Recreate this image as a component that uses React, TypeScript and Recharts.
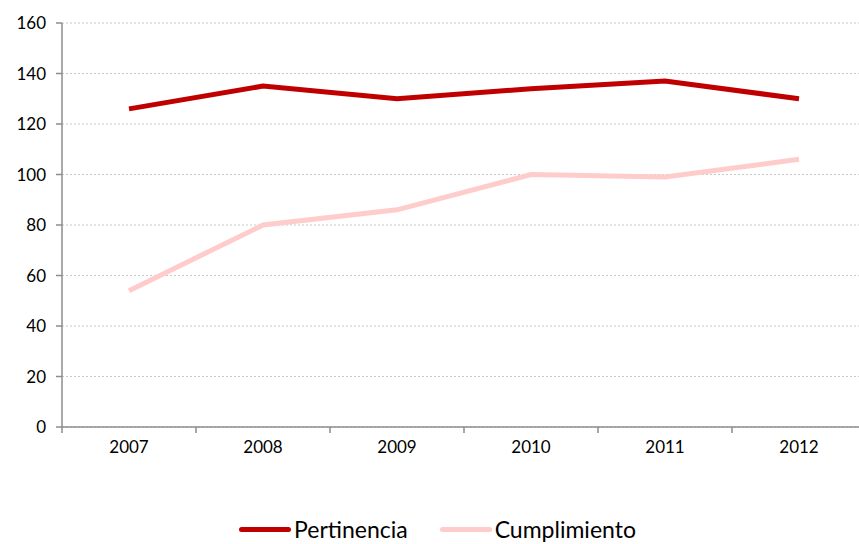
import { LineChart, Line, XAxis, YAxis, CartesianGrid } from 'recharts';

const years = [2007, 2008, 2009, 2010, 2011, 2012];
const pertinencia = [126, 135, 130, 134, 137, 130];
const cumplimiento = [54, 80, 86, 100, 99, 106];
const yTicks = [0, 20, 40, 60, 80, 100, 120, 140, 160];
// category boundaries, where the x-axis tick marks sit
const xBounds = [2006.5, 2007.5, 2008.5, 2009.5, 2010.5, 2011.5, 2012.5];

const data = years.map((year, i) => ({
  year,
  pertinencia: pertinencia[i],
  cumplimiento: cumplimiento[i],
}));

const CHART_W = 867;
const CHART_H = 544;
const X_HEIGHT = 30;
const MARGIN = { top: 23, right: 1, bottom: 117 - X_HEIGHT, left: 0 };
const Y_WIDTH = 62;
const BAND = (CHART_W - MARGIN.left - MARGIN.right - Y_WIDTH) / years.length;
const FONT = 'Lato, "Open Sans", sans-serif';

const RED = '#c00000';
const PINK = '#ffcccc';

interface TickProps { x?: number; y?: number; payload?: { value: number } }
function YearTick({ x = 0, y = 0, payload }: TickProps) {
  if (!payload || payload.value > 2012) return null;
  return (
    <text x={x + BAND / 2} y={y + 18} textAnchor="middle" fill="#000" fontSize={17} fontFamily={FONT}>
      {Math.ceil(payload.value)}
    </text>
  );
}

export default function App() {
  return (
    <div style={{ position: 'relative', width: 859, height: CHART_H, overflow: 'hidden', background: '#fff' }}>
      <style>{'body{margin:0}'}</style>
      <LineChart width={CHART_W} height={CHART_H} data={data} margin={MARGIN}>
        <CartesianGrid vertical={false} stroke="#c8c8c8" strokeDasharray="2 2" />
        <XAxis
          dataKey="year"
          type="number"
          domain={[2006.5, 2012.5]}
          ticks={xBounds}
          interval={0}
          height={X_HEIGHT}
          tick={<YearTick />}
          tickSize={6}
          stroke="#8c8c8c"
          strokeWidth={1.5}
        />
        <YAxis
          domain={[0, 160]}
          ticks={yTicks}
          interval={0}
          width={Y_WIDTH}
          tickSize={6}
          tickMargin={10}
          stroke="#8c8c8c"
          strokeWidth={1.5}
          tick={{ fill: '#000', fontSize: 17, fontFamily: FONT }}
        />
        <Line dataKey="pertinencia" stroke={RED} strokeWidth={5} dot={false} isAnimationActive={false} />
        <Line dataKey="cumplimiento" stroke={PINK} strokeWidth={5} dot={false} isAnimationActive={false} />
      </LineChart>

      {/* Legend */}
      <div
        style={{
          position: 'absolute',
          top: 516,
          left: 8,
          width: 859,
          display: 'flex',
          justifyContent: 'center',
          gap: 32,
          fontFamily: FONT,
          fontSize: 23,
          lineHeight: '26px',
          color: '#000',
        }}
      >
        {[
          { label: 'Pertinencia', color: RED },
          { label: 'Cumplimiento', color: PINK },
        ].map(({ label, color }) => (
          <div key={label} style={{ display: 'flex', alignItems: 'center', gap: 3 }}>
            <span style={{ width: 52, height: 5, borderRadius: 3, background: color, display: 'inline-block' }} />
            {label}
          </div>
        ))}
      </div>
    </div>
  );
}
